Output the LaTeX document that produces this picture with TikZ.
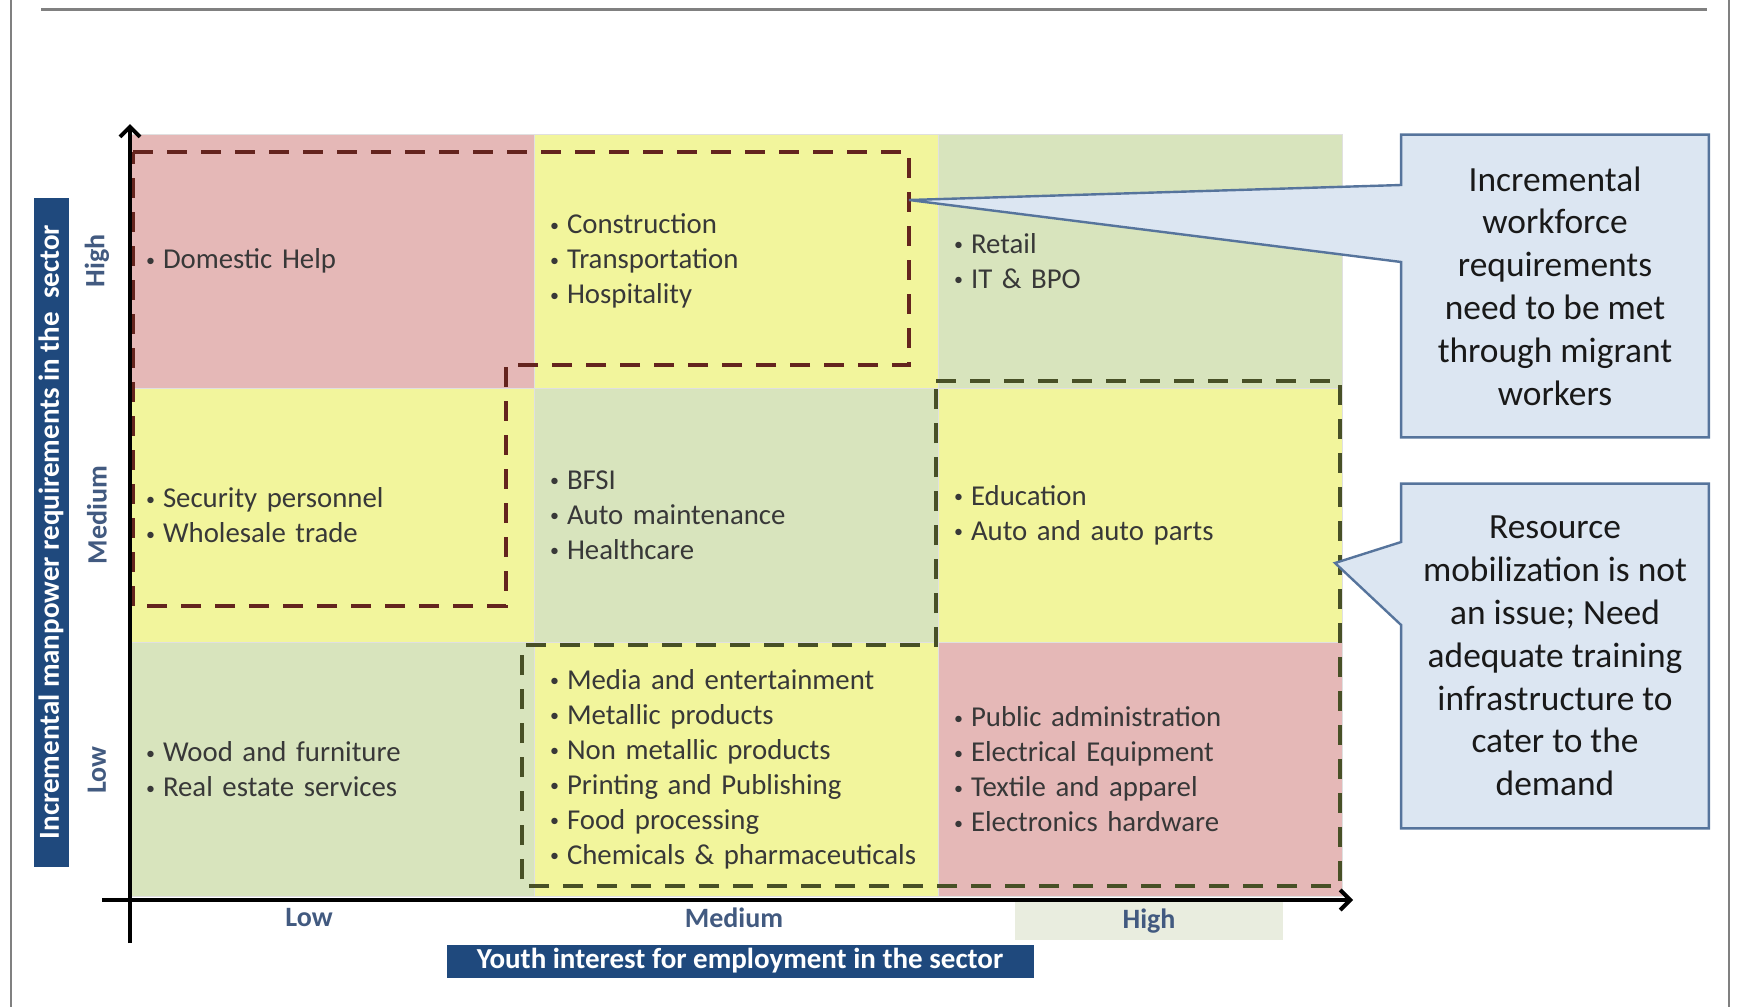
\documentclass[tikz,border=0pt]{standalone}
\usepackage{fontspec}
\setmainfont{Carlito}
\usetikzlibrary{arrows.meta,positioning}
\pgfdeclarelayer{front}
\pgfsetlayers{main,front}
\hyphenpenalty=10000

\definecolor{cellpink}{RGB}{229,184,183}
\definecolor{cellyellow}{RGB}{242,245,156}
\definecolor{cellgreen}{RGB}{216,228,189}
\definecolor{titleblue}{RGB}{31,73,125}
\definecolor{labelblue}{RGB}{66,90,128}
\definecolor{highbg}{RGB}{233,237,223}
\definecolor{notefill}{RGB}{220,230,242}
\definecolor{noteline}{RGB}{86,116,156}
\definecolor{redline}{RGB}{100,36,30}
\definecolor{greenline}{RGB}{72,80,38}
\definecolor{framegray}{RGB}{128,128,128}

\newcommand{\bul}{\makebox[8.5pt][l]{\raisebox{1.2pt}{\fontsize{9}{9}\selectfont\textbullet}}}

\tikzstyle{cell} = [rectangle, draw=black!12, line width=0.5pt, outer sep=0pt,
    minimum width=202pt, minimum height=127pt, inner xsep=8pt, inner ysep=0pt,
    text width=186pt, align=left, text=black!78, font=\fontsize{14.4}{17.5}\selectfont]
\tikzstyle{axis} = [line width=2pt, -{Straight Barb[length=5pt,width=10pt]}]
\tikzstyle{titlebox} = [fill=titleblue, text=white, inner sep=0pt,
    font=\fontsize{14.5}{16}\selectfont\bfseries]
\tikzstyle{levellabel} = [text=labelblue, inner sep=0pt, font=\fontsize{14}{16}\selectfont\bfseries]
\tikzstyle{notetext} = [align=center, text=black!90, minimum width=153.5pt, inner sep=0pt,
    font=\fontsize{17.7}{21.4}\selectfont]
\tikzstyle{notebox} = [fill=notefill, draw=noteline, line width=1.2pt]
\tikzstyle{redzone} = [draw=redline, line width=2pt, dash pattern=on 10pt off 7pt]
\tikzstyle{greenzone} = [draw=greenline, line width=2pt, dash pattern=on 10pt off 7pt]

\begin{document}
\begin{tikzpicture}[x=0.5pt, y=-0.5pt]
    \useasboundingbox (0,0) rectangle (1743,1007);
    \draw[framegray, line width=1.5pt] (41,9) -- (1707,9);
    \draw[framegray, line width=1pt] (11,0) -- (11,1007);
    \draw[framegray, line width=1pt] (1729,0) -- (1729,1007);

    \node[cell, fill=cellpink] (cell11) at (332,261) {\bul Domestic Help};
    \node[cell, fill=cellyellow, right=0pt of cell11] (cell12) {\bul Construction\\ \bul Transportation\\ \bul Hospitality};
    \node[cell, fill=cellgreen, right=0pt of cell12] (cell13) {\bul Retail\\ \bul IT \& BPO};
    \node[cell, fill=cellyellow, below=0pt of cell11] (cell21) {\bul Security personnel\\ \bul Wholesale trade};
    \node[cell, fill=cellgreen, right=0pt of cell21] (cell22) {\bul BFSI\\ \bul Auto maintenance\\ \bul Healthcare};
    \node[cell, fill=cellyellow, right=0pt of cell22] (cell23) {\bul Education\\ \bul Auto and auto parts};
    \node[cell, fill=cellgreen, below=0pt of cell21] (cell31) {\bul Wood and furniture\\ \bul Real estate services};
    \node[cell, fill=cellyellow, right=0pt of cell31] (cell32) {\bul Media and entertainment\\ \bul Metallic products\\
        \bul Non metallic products\\ \bul Printing and Publishing\\ \bul Food processing\\ \bul Chemicals \& pharmaceuticals};
    \node[cell, fill=cellpink, right=0pt of cell32] (cell33) {\bul Public administration\\ \bul Electrical Equipment\\
        \bul Textile and apparel\\ \bul Electronics hardware};

    \draw[redzone] (133,152) -- (909,152) -- (909,365) -- (506,365) -- (506,606) -- (133,606) -- cycle;
    \draw[greenzone] (936,381) -- (1340,381) -- (1340,886) -- (522,886) -- (522,645) -- (936,645) -- cycle;

    \coordinate (ybot) at (130,943);
    \coordinate (ytop) at (130,124);
    \coordinate (xleft) at (102,900);
    \coordinate (xright) at (1353,900);
    \draw[axis] (ybot) -- (ytop);
    \draw[axis] (xleft) -- (xright);

    \node[levellabel] (xlow) at (309,918) {Low};
    \node[levellabel] (xmed) at (734,918) {Medium};
    \node[levellabel, fill=highbg, minimum width=134pt, minimum height=19pt] (xhigh) at (1149,921) {High};
    \node[levellabel, rotate=90] (yhigh) at (97,261) {High};
    \node[levellabel, rotate=90] (ymed) at (97,515) {Medium};
    \node[levellabel, rotate=90] (ylow) at (97,770) {Low};

    \node[titlebox, rotate=90, minimum width=334.5pt, minimum height=17.5pt] (ytitle) at (51,532)
        {Incremental manpower requirements in the\ \ sector};
    \node[titlebox, minimum width=293.5pt, minimum height=16.5pt] (xtitle) at (740,961)
        {Youth interest for employment in the sector};

    \begin{pgfonlayer}{front}
        \node[notetext, minimum height=151pt] (note1) at (1555,286)
            {Incremental\\workforce\\requirements\\need to be met\\through migrant\\workers};
        \node[notetext, minimum height=172pt] (note2) at (1555,656)
            {Resource\\mobilization is not\\an issue; Need\\adequate training\\infrastructure to\\cater to the\\demand};
    \end{pgfonlayer}
    \coordinate (tip1) at (909,200);
    \coordinate (tip2) at (1335,563);
    \filldraw[notebox] (note1.north west) -- (note1.west |- 0,185) -- (tip1) -- (note1.west |- 0,262)
        -- (note1.south west) -- (note1.south east) -- (note1.north east) -- cycle;
    \filldraw[notebox] (note2.north west) -- (note2.west |- 0,542) -- (tip2) -- (note2.west |- 0,625)
        -- (note2.south west) -- (note2.south east) -- (note2.north east) -- cycle;
\end{tikzpicture}
\end{document}
